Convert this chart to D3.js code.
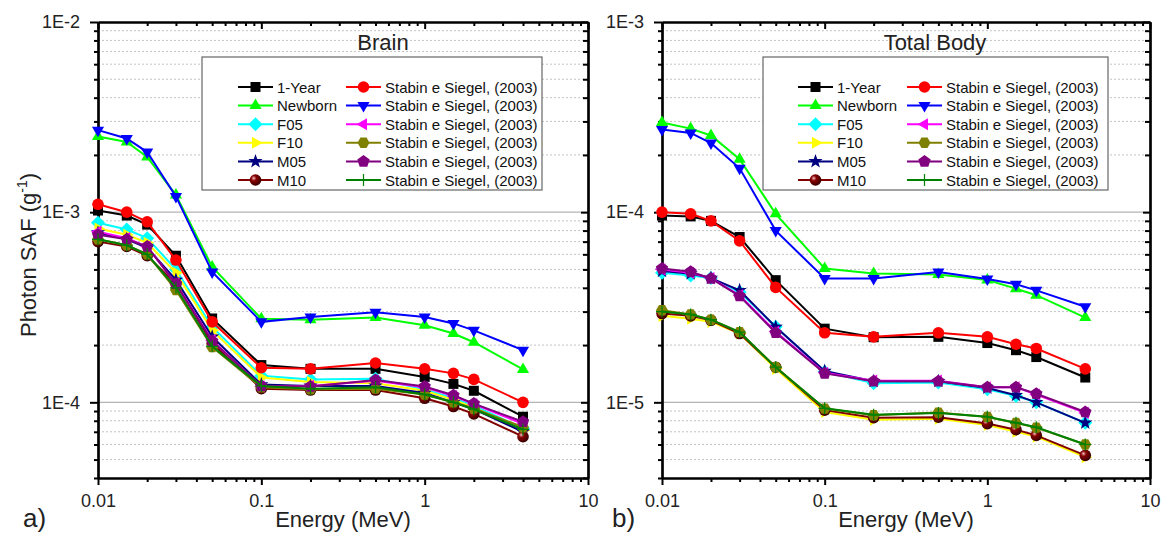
<!DOCTYPE html>
<html lang="en">
<head>
  <meta charset="UTF-8">
  <title>Photon SAF</title>
  <style>
    body { margin: 0; background: #fff; }
    svg { font-family: 'Liberation Sans', Arial, sans-serif; }
  </style>
</head>
<body>
  <svg width="1161" height="533" class="svgs"></svg>
  <script src="https://cdn.jsdelivr.net/npm/d3@7/dist/d3.min.js"></script>
  <script>
    // photon energies (MeV)
    const energy = [0.01, 0.015, 0.02, 0.03, 0.05, 0.1, 0.2, 0.5, 1, 1.5, 2, 4]

    const seriesNames = ['1-Year', 'Newborn', 'F05', 'F10', 'M05', 'M10',
      'Stabin e Siegel, (2003)', 'Stabin e Siegel, (2003)', 'Stabin e Siegel, (2003)',
      'Stabin e Siegel, (2003)', 'Stabin e Siegel, (2003)', 'Stabin e Siegel, (2003)']
    const seriesColors = ['#000000', '#00ff00', '#00ffff', '#ffff00', '#000080', '#800000',
      '#ff0000', '#0000ff', '#ff00ff', '#808000', '#800080', '#008000']
    const seriesShapes = ['square', 'triUp', 'diamond', 'triRight', 'star', 'sphere',
      'circle', 'triDown', 'triLeft', 'hexagon', 'pentagon', 'plus']

    // Brain
    const brainOneYear = [1.02e-3, 9.6e-4, 8.6e-4, 5.9e-4, 2.76e-4, 1.57e-4, 1.5e-4, 1.5e-4, 1.36e-4, 1.25e-4, 1.15e-4, 8.4e-5]
    const brainNewborn = [2.5e-3, 2.34e-3, 1.95e-3, 1.23e-3, 5.15e-4, 2.75e-4, 2.72e-4, 2.79e-4, 2.54e-4, 2.3e-4, 2.07e-4, 1.49e-4]
    const brainF05 = [8.8e-4, 8.1e-4, 7.3e-4, 5.0e-4, 2.49e-4, 1.38e-4, 1.32e-4, 1.33e-4, 1.17e-4, 1.05e-4, 9.6e-5, 7.3e-5]
    const brainF10 = [8.2e-4, 7.6e-4, 6.9e-4, 4.8e-4, 2.39e-4, 1.35e-4, 1.28e-4, 1.26e-4, 1.15e-4, 1.03e-4, 9.4e-5, 7.1e-5]
    const brainM05 = [7.8e-4, 7.2e-4, 6.5e-4, 4.4e-4, 2.21e-4, 1.24e-4, 1.22e-4, 1.22e-4, 1.12e-4, 1.0e-4, 9.2e-5, 7.0e-5]
    const brainM10 = [7.0e-4, 6.6e-4, 5.9e-4, 4.2e-4, 2.04e-4, 1.18e-4, 1.16e-4, 1.16e-4, 1.05e-4, 9.5e-5, 8.7e-5, 6.6e-5]
    const brainStabinOneYear = [1.1e-3, 1.0e-3, 8.9e-4, 5.6e-4, 2.65e-4, 1.52e-4, 1.5e-4, 1.61e-4, 1.5e-4, 1.42e-4, 1.32e-4, 1.0e-4]
    const brainStabinNewborn = [2.7e-3, 2.44e-3, 2.07e-3, 1.21e-3, 4.85e-4, 2.65e-4, 2.81e-4, 2.98e-4, 2.81e-4, 2.6e-4, 2.39e-4, 1.88e-4]
    const brainStabinF05 = [7.9e-4, 7.3e-4, 6.6e-4, 4.2e-4, 2.12e-4, 1.21e-4, 1.22e-4, 1.3e-4, 1.2e-4, 1.08e-4, 9.8e-5, 7.7e-5]
    const brainStabinF10 = [7.2e-4, 6.7e-4, 6.0e-4, 3.9e-4, 1.95e-4, 1.2e-4, 1.17e-4, 1.18e-4, 1.1e-4, 1.0e-4, 9.3e-5, 7.4e-5]
    const brainStabinM05 = [7.6e-4, 7.2e-4, 6.6e-4, 4.2e-4, 2.1e-4, 1.22e-4, 1.21e-4, 1.31e-4, 1.21e-4, 1.09e-4, 9.85e-5, 7.9e-5]
    const brainStabinM10 = [7.2e-4, 6.7e-4, 6.0e-4, 4.0e-4, 1.97e-4, 1.22e-4, 1.18e-4, 1.2e-4, 1.1e-4, 1.0e-4, 9.2e-5, 7.2e-5]

    // Total Body
    const bodyOneYear = [9.6e-5, 9.5e-5, 9.0e-5, 7.4e-5, 4.39e-5, 2.44e-5, 2.2e-5, 2.21e-5, 2.05e-5, 1.88e-5, 1.73e-5, 1.35e-5]
    const bodyNewborn = [2.96e-4, 2.75e-4, 2.53e-4, 1.9e-4, 9.8e-5, 5.06e-5, 4.76e-5, 4.7e-5, 4.4e-5, 3.96e-5, 3.66e-5, 2.79e-5]
    const bodyF05 = [4.8e-5, 4.65e-5, 4.5e-5, 3.8e-5, 2.5e-5, 1.45e-5, 1.26e-5, 1.27e-5, 1.17e-5, 1.08e-5, 1.0e-5, 7.8e-6]
    const bodyF10 = [2.85e-5, 2.75e-5, 2.65e-5, 2.3e-5, 1.5e-5, 8.9e-6, 8.1e-6, 8.2e-6, 7.6e-6, 7.0e-6, 6.6e-6, 5.15e-6]
    const bodyM05 = [4.9e-5, 4.75e-5, 4.5e-5, 3.88e-5, 2.49e-5, 1.46e-5, 1.29e-5, 1.29e-5, 1.19e-5, 1.09e-5, 1.0e-5, 7.8e-6]
    const bodyM10 = [2.93e-5, 2.85e-5, 2.7e-5, 2.3e-5, 1.53e-5, 9.1e-6, 8.3e-6, 8.35e-6, 7.73e-6, 7.18e-6, 6.7e-6, 5.26e-6]
    const bodyStabinOneYear = [1.0e-4, 9.8e-5, 9.0e-5, 7.06e-5, 4.02e-5, 2.32e-5, 2.21e-5, 2.32e-5, 2.21e-5, 2.02e-5, 1.92e-5, 1.5e-5]
    const bodyStabinNewborn = [2.72e-4, 2.61e-4, 2.31e-4, 1.7e-4, 8.0e-5, 4.48e-5, 4.48e-5, 4.85e-5, 4.45e-5, 4.18e-5, 3.88e-5, 3.18e-5]
    const bodyStabinF05 = [5.0e-5, 4.8e-5, 4.5e-5, 3.65e-5, 2.35e-5, 1.43e-5, 1.3e-5, 1.3e-5, 1.2e-5, 1.2e-5, 1.1e-5, 8.8e-6]
    const bodyStabinF10 = [3.05e-5, 2.9e-5, 2.72e-5, 2.34e-5, 1.53e-5, 9.27e-6, 8.55e-6, 8.83e-6, 8.38e-6, 7.79e-6, 7.36e-6, 6.0e-6]
    const bodyStabinM05 = [5.06e-5, 4.86e-5, 4.48e-5, 3.62e-5, 2.32e-5, 1.42e-5, 1.29e-5, 1.29e-5, 1.2e-5, 1.2e-5, 1.11e-5, 8.9e-6]
    const bodyStabinM10 = [3.0e-5, 2.9e-5, 2.72e-5, 2.34e-5, 1.53e-5, 9.3e-6, 8.6e-6, 8.8e-6, 8.4e-6, 7.8e-6, 7.4e-6, 6.0e-6]

    const xTickLabels = ['0.01', '0.1', '1', '10']
    // listed top to bottom
    const brainYTickLabels = ['1E-2', '1E-3', '1E-4']
    const bodyYTickLabels = ['1E-3', '1E-4', '1E-5']

    const panels = [
      {
        title: 'Brain', tag: 'a)', x0: 98, x1: 588, yDomain: [4e-5, 1e-2],
        series: [brainOneYear, brainNewborn, brainF05, brainF10, brainM05, brainM10,
          brainStabinOneYear, brainStabinNewborn, brainStabinF05, brainStabinF10, brainStabinM05, brainStabinM10],
        yLabels: brainYTickLabels, titleX: 383, tagX: 23,
        legend: { x: 202, w: 340, c1: 238, c2: 346 }
      },
      {
        title: 'Total Body', tag: 'b)', x0: 662, x1: 1150, yDomain: [4e-6, 1e-3],
        series: [bodyOneYear, bodyNewborn, bodyF05, bodyF10, bodyM05, bodyM10,
          bodyStabinOneYear, bodyStabinNewborn, bodyStabinF05, bodyStabinF10, bodyStabinM05, bodyStabinM10],
        yLabels: bodyYTickLabels, titleX: 935, tagX: 612,
        legend: { x: 763, w: 345, c1: 798, c2: 907 }
      }
    ]

    const yTop = 22
    const yBot = 478

    const mainsvg = d3.select('.svgs')

    // sphere gradient for M10 marker
    const grad = mainsvg.append('defs').append('radialGradient')
      .attr('id', 'sphere').attr('cx', '35%').attr('cy', '35%').attr('r', '65%')
    grad.append('stop').attr('offset', '0%').attr('stop-color', '#f0c0c0')
    grad.append('stop').attr('offset', '35%').attr('stop-color', '#8a0000')
    grad.append('stop').attr('offset', '100%').attr('stop-color', '#3a0000')

    function polygon(n, r, rot) {
      const pts = d3.range(n).map(i => {
        const a = (rot + i * 360 / n) * Math.PI / 180
        return [r * Math.cos(a), r * Math.sin(a)]
      })
      return 'M' + pts.map(p => p[0].toFixed(2) + ',' + p[1].toFixed(2)).join('L') + 'Z'
    }

    function starPath(r1, r2) {
      const pts = d3.range(10).map(i => {
        const a = (-90 + i * 36) * Math.PI / 180
        const r = i % 2 ? r2 : r1
        return [r * Math.cos(a), r * Math.sin(a)]
      })
      return 'M' + pts.map(p => p[0].toFixed(2) + ',' + p[1].toFixed(2)).join('L') + 'Z'
    }

    function shapePath(shape) {
      switch (shape) {
        case 'square': return 'M-5,-5h10v10h-10Z'
        case 'triUp': return polygon(3, 7, -90)
        case 'triDown': return polygon(3, 7, 90)
        case 'triRight': return polygon(3, 7, 0)
        case 'triLeft': return polygon(3, 7, 180)
        case 'diamond': return polygon(4, 7, -90)
        case 'pentagon': return polygon(5, 6.5, -90)
        case 'hexagon': return polygon(6, 6, 0)
        case 'star': return starPath(7.5, 3)
        case 'plus': return 'M0,-6V6M-6,0H6'
        default: return null
      }
    }

    function drawMarker(sel, i, cx, cy) {
      const shape = seriesShapes[i]
      const color = seriesColors[i]
      if (shape === 'circle' || shape === 'sphere') {
        sel.append('circle').attr('cx', cx).attr('cy', cy).attr('r', 5.8)
          .attr('fill', shape === 'sphere' ? 'url(#sphere)' : color)
      } else if (shape === 'plus') {
        sel.append('path').attr('d', shapePath(shape))
          .attr('transform', `translate(${cx},${cy})`)
          .attr('stroke', color).attr('stroke-width', 1.2).attr('fill', 'none')
      } else {
        sel.append('path').attr('d', shapePath(shape))
          .attr('transform', `translate(${cx},${cy})`)
          .attr('fill', color)
      }
    }

    panels.forEach(p => {
      const xScale = d3.scaleLog().domain([0.01, 10]).range([p.x0, p.x1])
      const yScale = d3.scaleLog().domain(p.yDomain).range([yBot, yTop])
      const g = mainsvg.append('g')

      const isMajor = v => Math.abs(Math.log10(v) - Math.round(Math.log10(v))) < 1e-6
      const xMajor = xScale.ticks().filter(isMajor).sort((a, b) => a - b)
      const xMinor = xScale.ticks().filter(v => !isMajor(v))
      const yAll = yScale.ticks().filter(v => v >= p.yDomain[0] * 0.999 && v <= p.yDomain[1] * 1.001)
      const yMajor = yAll.filter(isMajor).sort((a, b) => b - a)
      const yMinor = yAll.filter(v => !isMajor(v))

      // grid
      g.append('g').selectAll('line').data(yMinor.filter(v => v > p.yDomain[0] * 1.01)).join('line')
        .attr('x1', p.x0).attr('x2', p.x1)
        .attr('y1', d => yScale(d)).attr('y2', d => yScale(d))
        .attr('stroke', '#c4c4c4').attr('stroke-width', 1).attr('stroke-dasharray', '2,2')
      g.append('g').selectAll('line').data(yMajor.filter(v => v < p.yDomain[1] * 0.99)).join('line')
        .attr('x1', p.x0).attr('x2', p.x1)
        .attr('y1', d => yScale(d)).attr('y2', d => yScale(d))
        .attr('stroke', '#b4b4b4').attr('stroke-width', 1.3)

      // axes
      const axes = g.append('g').attr('class', 'axes')
      axes.append('g').attr('transform', `translate(0,${yBot})`)
        .call(d3.axisBottom(xScale).tickValues(xMinor).tickSize(4).tickSizeOuter(0).tickFormat(''))
      axes.append('g').attr('transform', `translate(0,${yBot})`)
        .call(d3.axisBottom(xScale).tickValues(xMajor).tickSize(7).tickSizeOuter(0).tickPadding(9)
          .tickFormat((d, i) => xTickLabels[i]))
      axes.append('g').attr('transform', `translate(0,${yTop})`)
        .call(d3.axisTop(xScale).tickValues(xMinor).tickSize(-4).tickSizeOuter(0).tickFormat(''))
      axes.append('g').attr('transform', `translate(0,${yTop})`)
        .call(d3.axisTop(xScale).tickValues(xMajor).tickSize(-7).tickSizeOuter(0).tickFormat(''))
      axes.append('g').attr('transform', `translate(${p.x0},0)`)
        .call(d3.axisLeft(yScale).tickValues(yMinor).tickSize(4).tickSizeOuter(0).tickFormat(''))
      axes.append('g').attr('transform', `translate(${p.x0},0)`)
        .call(d3.axisLeft(yScale).tickValues(yMajor).tickSize(8).tickSizeOuter(0).tickPadding(10)
          .tickFormat((d, i) => p.yLabels[i]))
      axes.append('g').attr('transform', `translate(${p.x1},0)`)
        .call(d3.axisRight(yScale).tickValues(yMinor).tickSize(-5).tickSizeOuter(0).tickFormat(''))
      axes.append('g').attr('transform', `translate(${p.x1},0)`)
        .call(d3.axisRight(yScale).tickValues(yMajor).tickSize(-7).tickSizeOuter(0).tickFormat(''))
      axes.selectAll('.domain').attr('stroke', '#000').attr('stroke-width', 2.2)
      axes.selectAll('.tick line').attr('stroke', '#000').attr('stroke-width', 2)
      axes.selectAll('.tick text').attr('font-size', 18).attr('fill', '#222')
        .attr('font-family', "'Liberation Sans', Arial, sans-serif")

      // series lines then markers
      const line = d3.line().x((d, i) => xScale(energy[i])).y(d => yScale(d))
      p.series.forEach((vals, i) => {
        g.append('path').datum(vals).attr('d', line)
          .attr('fill', 'none').attr('stroke', seriesColors[i]).attr('stroke-width', 2)
        const mg = g.append('g')
        vals.forEach((v, k) => drawMarker(mg, i, xScale(energy[k]), yScale(v)))
      })

      // panel title
      g.append('text').text(p.title)
        .attr('x', p.titleX).attr('y', 50).attr('text-anchor', 'middle')
        .attr('font-size', 22).attr('fill', '#222')

      // legend
      const L = p.legend
      g.append('rect').attr('x', L.x).attr('y', 57).attr('width', L.w).attr('height', 133)
        .attr('fill', '#fff').attr('stroke', '#666').attr('stroke-width', 1.2)
      seriesNames.forEach((name, i) => {
        const col = i < 6 ? L.c1 : L.c2
        const ly = 87 + (i % 6) * 18.6
        g.append('line').attr('x1', col).attr('x2', col + 35).attr('y1', ly).attr('y2', ly)
          .attr('stroke', seriesColors[i]).attr('stroke-width', 2)
        drawMarker(g, i, col + 17.5, ly)
        g.append('text').text(name).attr('x', col + 39).attr('y', ly + 5.5)
          .attr('font-size', 15).attr('fill', '#111')
      })

      // x axis title and panel tag
      g.append('text').text('Energy (MeV)')
        .attr('x', (p.x0 + p.x1) / 2).attr('y', 527).attr('text-anchor', 'middle')
        .attr('font-size', 22).attr('fill', '#222')
      g.append('text').text(p.tag).attr('x', p.tagX).attr('y', 527)
        .attr('font-size', 26).attr('fill', '#222')
    })

    // y axis title
    const yt = mainsvg.append('text')
      .attr('transform', 'translate(36,255) rotate(-90)')
      .attr('text-anchor', 'middle').attr('font-size', 22).attr('fill', '#222')
    yt.append('tspan').text('Photon SAF (g')
    yt.append('tspan').text('-1').attr('font-size', 14).attr('dy', -9)
    yt.append('tspan').text(')').attr('dy', 9)
  </script>
</body>
</html>
